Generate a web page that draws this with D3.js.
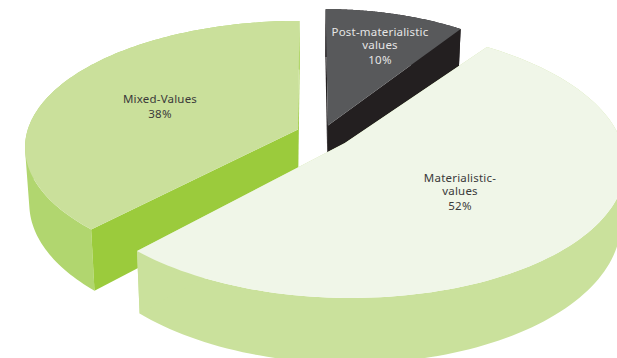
<!DOCTYPE html>
<html>
<head>
<meta charset="utf-8">
<script src="https://cdn.jsdelivr.net/npm/d3@7/dist/d3.min.js"></script>
<style>
html,body{margin:0;padding:0;background:#fff;overflow:hidden}
text{font-family:"Noto Sans",sans-serif;font-size:11.5px;letter-spacing:.2px;text-anchor:middle}
</style>
</head>
<body>
<svg id="chart" width="617" height="358"></svg>
<script>
// Survey shares, clockwise from twelve o'clock
const categories = ["Post-materialistic values", "Materialistic-values", "Mixed-Values"];
const shares = [10, 52, 38];
const labelLines = [["Post-materialistic", "values", "10%"], ["Materialistic-", "values", "52%"], ["Mixed-Values", "38%"]];

// Surface colours per slice: top, rim, cut face
const topColours = ["#58595b", "#f0f6e8", "#cae09b"];
const rimColours = ["#231f20", "#cae19c", "#b1d66f"];
const cutColours = ["#231f20", "#cae19c", "#9bcb3c"];
const textColours = ["#e6e6e6", "#3a3a3a", "#3a3a3a"];

// How far each slice is pulled out of the pie, in radius units
const explodeX = [-0.06, 0, -0.17];
const explodeY = [-0.134, 0, -0.104];
// Per-slice stretch of the unit circle
const stretchX = [0.945, 1, 0.99];
const stretchY = [1.05, 1, 0.96];
const labelX = [380, 460, 160];
const labelY = [[36, 49, 64], [182, 195, 210], [103, 118]];

// Perspective camera looking down on a pie of unit radius
const camera = { vx: 310, horizon: -771, scaleX: 277, scaleY: 914, dist: 6.9, skewX: 0.126, depth: 56, lean: 0.015 };

function project(x, y, z) {
  const s = camera.dist / (camera.dist - y);
  const px = camera.vx + camera.scaleX * (x + camera.skewX) * s;
  const py = camera.horizon + camera.scaleY * s;
  return [px + z * (camera.vx - px) * camera.lean, py + z * camera.depth * s];
}

const svg = d3.select("#chart");
const pie = d3.pie().sort(null).startAngle(0).endAngle(2 * Math.PI);
const arcs = pie(shares);
const line = d3.line();

function rimPoints(a, i, z) {
  return d3.range(0, 121).map(k => {
    const t = a.startAngle + (a.endAngle - a.startAngle) * k / 120;
    return project(explodeX[i] + stretchX[i] * Math.sin(t), explodeY[i] - stretchY[i] * Math.cos(t), z);
  });
}

// Back to front: the large slice overlaps the other two
[0, 2, 1].forEach(i => {
  const a = arcs[i];
  const g = svg.append("g").attr("class", "slice").attr("data-category", categories[i]);
  const apexTop = project(explodeX[i], explodeY[i], 0);
  const apexBottom = project(explodeX[i], explodeY[i], 1);
  const top = rimPoints(a, i, 0);
  const bottom = rimPoints(a, i, 1);

  // The rim is a run of small quads so its silhouette stays closed at the tangent
  const quads = d3.range(0, 120).map(k => {
    const cw = d3.polygonArea([top[k], top[k + 1], bottom[k + 1], bottom[k]]) > 0;
    const pts = [top[k], top[k + 1], bottom[k + 1], bottom[k]];
    return line(cw ? pts : pts.reverse()) + "Z";
  }).join("");
  g.append("path").attr("d", quads).attr("fill", rimColours[i]);

  // Cut faces, from the apex to each end of the arc
  [[top[0], bottom[0]], [top[120], bottom[120]]].forEach(([u, v]) => {
    g.append("path")
      .attr("d", line([apexTop, u, v, apexBottom]) + "Z")
      .attr("fill", cutColours[i]);
  });

  g.append("path")
    .attr("d", line([apexTop].concat(top)) + "Z")
    .attr("fill", topColours[i]);

  labelLines[i].forEach((txt, j) => {
    g.append("text")
      .attr("x", labelX[i])
      .attr("y", labelY[i][j])
      .attr("fill", textColours[i])
      .text(txt);
  });
});
</script>
</body>
</html>
